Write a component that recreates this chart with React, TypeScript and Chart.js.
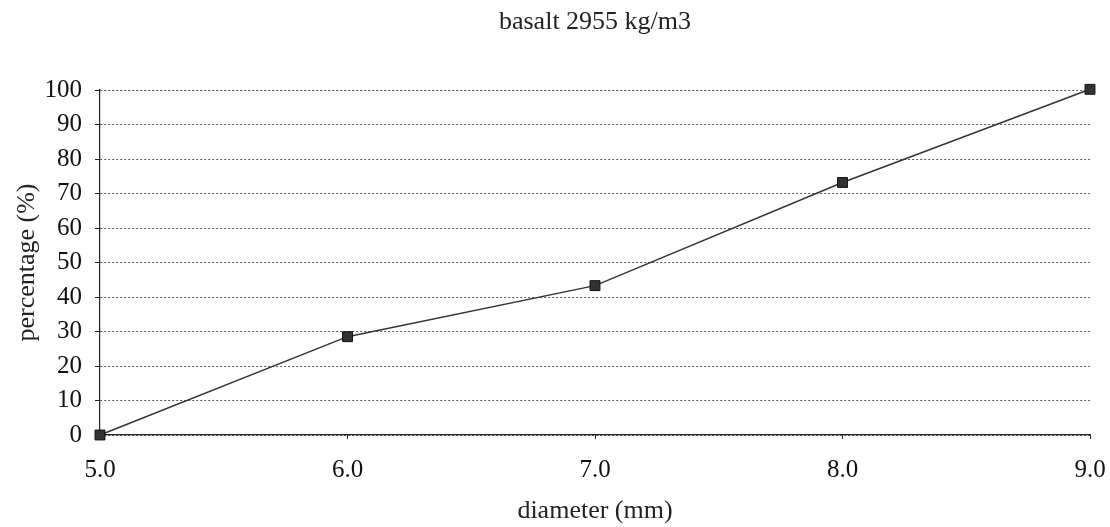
import React, { useEffect, useRef } from "react";
import { Chart, registerables } from "chart.js";

Chart.register(...registerables);

const chartTitle = "basalt 2955 kg/m3";
const xAxisTitle = "diameter (mm)";
const yAxisTitle = "percentage (%)";
const diameters = [5.0, 6.0, 7.0, 8.0, 9.0];
const percentages = [0, 28.5, 43.3, 73.2, 100.2];
const yTickMin = 0;
const yTickMax = 100;
const yTickStep = 10;
const xTickMin = 5;
const xTickMax = 9;
const xTickStep = 1;

const FONT = "'Liberation Serif', 'Times New Roman', serif";

const titlePlugin = {
  id: "plotTitle",
  afterDraw(chart: any) {
    const { ctx, chartArea } = chart;
    ctx.save();
    ctx.font = `26px ${FONT}`;
    ctx.fillStyle = "#222222";
    ctx.textAlign = "center";
    ctx.textBaseline = "middle";
    ctx.fillText(chartTitle, (chartArea.left + chartArea.right) / 2, 22);
    ctx.restore();
  },
};

export default function App() {
  const canvasRef = useRef<HTMLCanvasElement | null>(null);

  useEffect(() => {
    document.body.style.margin = "0";
    const canvas = canvasRef.current;
    if (!canvas) return;
    const chart = new Chart(canvas, {
      type: "scatter",
      data: {
        datasets: [
          {
            data: diameters.map((d, i) => ({ x: d, y: percentages[i] })),
            showLine: true,
            borderColor: "#333333",
            borderWidth: 1.5,
            pointStyle: "rect",
            pointRadius: 7,
            pointBackgroundColor: "#333333",
            pointBorderColor: "#111111",
            pointBorderWidth: 1,
            clip: false,
          },
        ],
      },
      options: {
        responsive: false,
        animation: false,
        layout: { padding: { left: 0, right: 20, top: 90, bottom: 0 } },
        plugins: {
          legend: { display: false },
          tooltip: { enabled: false },
          title: { display: false },
        },
        scales: {
          x: {
            type: "linear",
            min: xTickMin,
            max: xTickMax,
            afterFit: (scale: any) => {
              scale.height = 92;
              scale.paddingRight = 0;
              scale.paddingLeft = 0;
            },
            ticks: {
              stepSize: xTickStep,
              color: "#111111",
              font: { family: FONT, size: 25 },
              padding: 16,
              callback: (v: any) => Number(v).toFixed(1),
            },
            grid: {
              drawOnChartArea: false,
              drawTicks: true,
              tickLength: 4,
              color: "#222222",
            },
            border: { display: true, color: "#222222", width: 1.2 },
            title: {
              display: true,
              text: xAxisTitle,
              color: "#222222",
              font: { family: FONT, size: 26 },
              padding: { top: 0, bottom: 0 },
            },
          },
          y: {
            type: "linear",
            min: yTickMin,
            max: yTickMax,
            afterFit: (scale: any) => {
              scale.width = 100;
            },
            ticks: {
              stepSize: yTickStep,
              color: "#111111",
              font: { family: FONT, size: 25 },
              padding: 13,
            },
            grid: {
              color: "#555555",
              lineWidth: 1,
              tickLength: 5,
              tickColor: "#222222",
              tickBorderDash: [],
            },
            border: { display: true, color: "#222222", width: 1.2, dash: [2, 2] },
            title: {
              display: true,
              text: yAxisTitle,
              color: "#222222",
              font: { family: FONT, size: 26 },
              padding: { top: 12, bottom: 0 },
            },
          },
        },
      },
      plugins: [titlePlugin],
    } as any);
    return () => chart.destroy();
  }, []);

  return (
    <div style={{ width: 1110, height: 527, background: "#ffffff" }}>
      <canvas ref={canvasRef} width={1110} height={527} />
    </div>
  );
}
